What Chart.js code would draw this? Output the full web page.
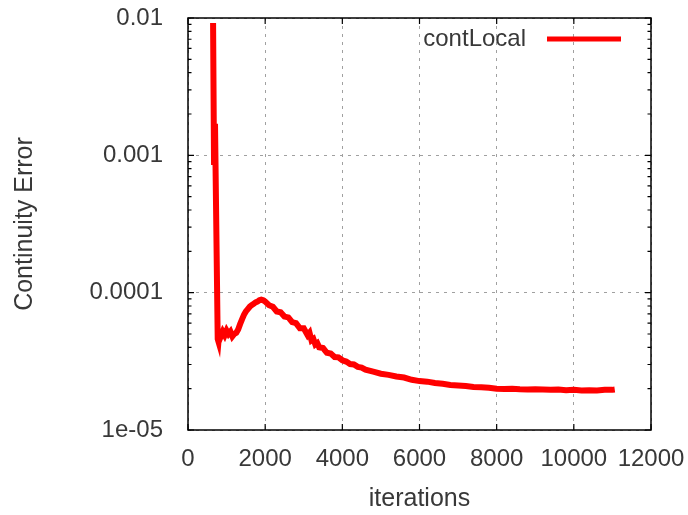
<!DOCTYPE html>
<html>
<head>
<meta charset="utf-8">
<script src="https://cdn.jsdelivr.net/npm/chart.js@4/dist/chart.umd.min.js"></script>
<style>
  html, body { margin: 0; padding: 0; background: #fff; }
  #wrap { width: 688px; height: 515px; position: relative; }
</style>
</head>
<body>
<div id="wrap"><canvas id="c"></canvas></div>
<script>
// ---- data ----
const seriesName = 'contLocal';
const iterations = [
  650, 675, 700, 770, 790, 810, 850, 900, 950, 1000, 1050, 1100, 1150, 1200, 1250, 1300,
  1350, 1400, 1450, 1500, 1550, 1600, 1650, 1700, 1750, 1800, 1850, 1900, 1950, 2000,
  2100, 2200, 2300, 2400, 2500, 2600, 2700, 2800, 2900, 3000, 3100, 3150, 3200, 3250,
  3300, 3350, 3400, 3500, 3600, 3700, 3800, 3900, 4000, 4100, 4200, 4300, 4400, 4500,
  4600, 4800, 5000, 5200, 5400, 5600, 5800, 6000, 6200, 6400, 6600, 6800, 7000, 7200,
  7400, 7600, 7800, 8000, 8200, 8400, 8600, 8800, 9000, 9200, 9400, 9600, 9800, 10000,
  10200, 10400, 10600, 10800, 11000, 11060
];
const contLocal = [
  0.0092, 0.00085, 0.0017, 4.6e-5, 4.4e-5, 5.1e-5, 4.8e-5, 5.2e-5, 4.9e-5, 5.3e-5, 5.0e-5, 5.2e-5, 4.8e-5, 5.0e-5, 5.1e-5, 5.4e-5,
  5.9e-5, 6.4e-5, 6.9e-5, 7.3e-5, 7.6e-5, 7.9e-5, 8.1e-5, 8.3e-5, 8.5e-5, 8.6e-5, 8.8e-5, 8.9e-5, 8.8e-5, 8.6e-5,
  8.1e-5, 7.9e-5, 7.3e-5, 7.2e-5, 6.7e-5, 6.6e-5, 6.1e-5, 6.0e-5, 5.5e-5, 5.5e-5, 4.9e-5, 5.1e-5, 4.5e-5, 4.6e-5,
  4.2e-5, 4.3e-5, 4.0e-5, 3.95e-5, 3.65e-5, 3.6e-5, 3.4e-5, 3.38e-5, 3.22e-5, 3.15e-5, 3.02e-5, 3.0e-5, 2.88e-5, 2.85e-5,
  2.75e-5, 2.66e-5, 2.57e-5, 2.52e-5, 2.45e-5, 2.41e-5, 2.32e-5, 2.27e-5, 2.25e-5, 2.2e-5, 2.17e-5, 2.13e-5, 2.11e-5, 2.09e-5,
  2.06e-5, 2.05e-5, 2.03e-5, 2.0e-5, 1.99e-5, 2.0e-5, 1.98e-5, 1.97e-5, 1.98e-5, 1.97e-5, 1.96e-5, 1.97e-5, 1.95e-5, 1.96e-5,
  1.94e-5, 1.95e-5, 1.94e-5, 1.96e-5, 1.96e-5, 1.97e-5
];
const xTicks = [0, 2000, 4000, 6000, 8000, 10000, 12000];
const yTicks = [1e-5, 1e-4, 1e-3, 1e-2];
const yTickLabels = ['1e-05', '0.0001', '0.001', '0.01'];
const xTitle = 'iterations';
const yTitle = 'Continuity Error';

const FONT = 'Liberation Sans';
const TEXT = '#383838';

const framePlugin = {
  id: 'gnuplotFrame',
  afterDatasetsDraw(chart) {
    const ctx = chart.ctx;
    const a = chart.chartArea;
    const xs = chart.scales.x, ys = chart.scales.y;
    ctx.save();
    ctx.strokeStyle = '#000';
    ctx.lineWidth = 1.5;
    ctx.strokeRect(a.left, a.top, a.right - a.left, a.bottom - a.top);
    ctx.lineWidth = 1.2;
    ctx.beginPath();
    xTicks.forEach(v => {
      const px = xs.getPixelForValue(v);
      ctx.moveTo(px, a.bottom); ctx.lineTo(px, a.bottom - 6);
      ctx.moveTo(px, a.top); ctx.lineTo(px, a.top + 6);
    });
    for (let i = 0; i < yTicks.length; i++) {
      const base = yTicks[i];
      const py = ys.getPixelForValue(base);
      ctx.moveTo(a.left, py); ctx.lineTo(a.left + 6, py);
      ctx.moveTo(a.right, py); ctx.lineTo(a.right - 6, py);
      if (i < yTicks.length - 1) {
        for (let m = 2; m <= 9; m++) {
          const pm = ys.getPixelForValue(base * m);
          ctx.moveTo(a.left, pm); ctx.lineTo(a.left + 3.5, pm);
          ctx.moveTo(a.right, pm); ctx.lineTo(a.right - 3.5, pm);
        }
      }
    }
    ctx.stroke();
    // legend (gnuplot style: text then sample line)
    const ds = chart.data.datasets[0];
    ctx.font = '24px "' + FONT + '"';
    ctx.fillStyle = TEXT;
    ctx.textAlign = 'right';
    ctx.textBaseline = 'middle';
    ctx.fillText(ds.label, 526, 39);
    ctx.strokeStyle = ds.borderColor;
    ctx.lineWidth = 5;
    ctx.beginPath();
    ctx.moveTo(547, 39); ctx.lineTo(621, 39);
    ctx.stroke();
    ctx.restore();
  }
};

new Chart(document.getElementById('c'), {
  type: 'line',
  data: {
    datasets: [{
      label: seriesName,
      data: iterations.map((x, i) => ({ x: x, y: contLocal[i] })),
      borderColor: 'rgb(255,0,0)',
      borderWidth: 6,
      pointRadius: 0,
      tension: 0,
      fill: false
    }]
  },
  options: {
    responsive: true,
    maintainAspectRatio: false,
    animation: false,
    devicePixelRatio: 1,
    layout: { padding: { top: 18, right: 37, left: 0, bottom: 0 } },
    plugins: { legend: { display: false }, tooltip: { enabled: false } },
    scales: {
      x: {
        type: 'linear',
        min: 0, max: 12000,
        afterBuildTicks: s => { s.ticks = xTicks.map(v => ({ value: v })); },
        afterFit: s => { s.height = 85; s.paddingLeft = 0; s.paddingRight = 0; },
        ticks: {
          padding: 15,
          color: TEXT,
          font: { family: FONT, size: 24, lineHeight: 1.2 },
          maxRotation: 0, autoSkip: false,
          callback: v => String(v)
        },
        grid: { color: '#a0a0a0', lineWidth: 1, drawTicks: false },
        border: { display: false, dash: [3, 5] },
        title: {
          display: true, text: xTitle, color: TEXT,
          font: { family: FONT, size: 25, lineHeight: 1.2 },
          padding: { top: 0, bottom: 1 }
        }
      },
      y: {
        type: 'logarithmic',
        min: 1e-5, max: 1e-2,
        afterBuildTicks: s => { s.ticks = yTicks.map(v => ({ value: v })); },
        afterFit: s => { s.width = 188; s.paddingTop = 0; s.paddingBottom = 0; },
        ticks: {
          padding: 25,
          color: TEXT,
          font: { family: FONT, size: 24, lineHeight: 1.2 },
          autoSkip: false,
          callback: v => { const i = yTicks.findIndex(t => Math.abs(t - v) / t < 1e-6); return i >= 0 ? yTickLabels[i] : ''; }
        },
        grid: { color: '#a0a0a0', lineWidth: 1, drawTicks: false },
        border: { display: false, dash: [3, 5] },
        title: {
          display: true, text: yTitle, color: TEXT,
          font: { family: FONT, size: 25, lineHeight: 1.2 },
          padding: { top: 10, bottom: 0 }
        }
      }
    }
  },
  plugins: [framePlugin]
});
</script>
</body>
</html>
